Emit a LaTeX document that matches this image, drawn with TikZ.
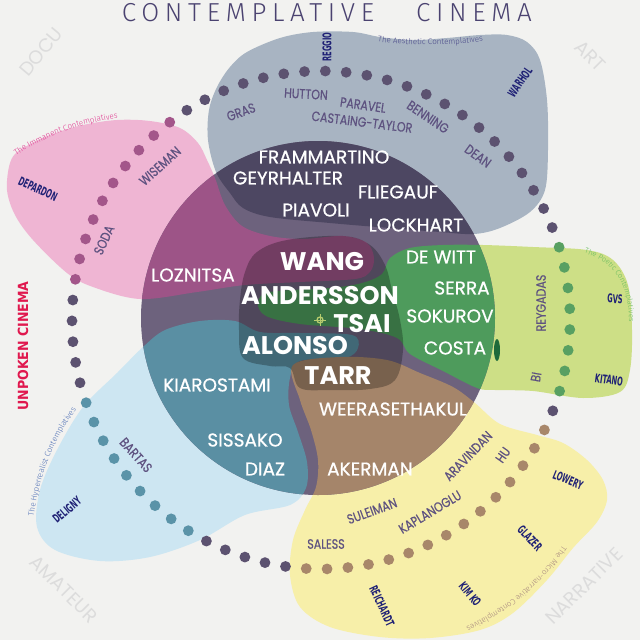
\documentclass[tikz,border=0pt]{standalone}
\usepackage{fontspec}
\usetikzlibrary{decorations.text}
\newfontfamily\namefont{Poppins}
\newfontfamily\whitefont{Poppins}[FakeBold=0.7]
\newfontfamily\edgefont{Poppins}[FakeStretch=0.82,FakeBold=0.5]
\newfontfamily\navyfont{DejaVu Sans Condensed}[FakeStretch=0.62]
\newfontfamily\unpokenfont{DejaVu Sans Condensed}
\newfontfamily\thinfont{Fira Sans Light}
\newfontfamily\titlefont{Fira Sans Light}[LetterSpace=22]

\definecolor{paper}{HTML}{F2F2F0}
\definecolor{aestheticfill}{HTML}{A8B4C2}
\definecolor{immanentfill}{HTML}{EFB5D3}
\definecolor{poeticfill}{HTML}{CDDF86}
\definecolor{hyperfill}{HTML}{CDE6F2}
\definecolor{microfill}{HTML}{F7EFA9}
\definecolor{discfill}{HTML}{6D627D}
\definecolor{aestheticdark}{HTML}{4D4762}
\definecolor{immanentdark}{HTML}{9D5487}
\definecolor{poeticdark}{HTML}{4E9B5C}
\definecolor{hyperdark}{HTML}{5A8FA3}
\definecolor{microdark}{HTML}{A5856A}
\definecolor{bumpgreen}{HTML}{1E6A3A}
\definecolor{dot0}{HTML}{5C5270}
\definecolor{dot1}{HTML}{A3568A}
\definecolor{dot2}{HTML}{58A062}
\definecolor{dot3}{HTML}{A8876A}
\definecolor{dot4}{HTML}{5A93A8}
\definecolor{edgeink}{HTML}{5E5280}
\definecolor{navyink}{HTML}{1F2175}
\definecolor{titleink}{HTML}{4A4270}
\definecolor{unpokenink}{HTML}{E0184E}
\definecolor{ghostline}{HTML}{DCDCDC}
\definecolor{markerink}{HTML}{B7CC6E}
\definecolor{aestheticink}{HTML}{4B4A8A}
\definecolor{immanentink}{HTML}{E0378F}
\definecolor{poeticink}{HTML}{66BB5E}
\definecolor{hyperink}{HTML}{4E6FB5}
\definecolor{microink}{HTML}{A6877E}

% the five fields, in pixel coordinates (y downwards)
\newcommand{\aestheticblob}{plot[smooth cycle,tension=0.55] coordinates {(217,87) (230,67) (247,52) (280,38) (313,32) (353,32) (380,37) (413,40) (447,38) (480,35) (507,35) (527,42) (540,60) (547,100) (548,150) (545,190) (530,212) (500,228) (474,234) (440,232) (377,227) (330,223) (270,217) (243,208) (230,193) (216,172) (208,140) (209,110)}}
\newcommand{\immanentblob}{plot[smooth cycle,tension=0.55] coordinates {(10,163) (20,150) (50,135) (83,125) (117,120) (150,121) (180,128) (198,143) (207,160) (215,178) (225,205) (242,226) (270,236) (303,239) (343,236) (367,243) (374,258) (370,272) (355,279) (300,282) (245,285) (197,292) (140,299) (93,287) (67,273) (33,240) (15,215) (7,190)}}
\newcommand{\poeticblob}{plot[smooth cycle,tension=0.55] coordinates {(483,245) (533,247) (587,250) (613,260) (628,285) (632,330) (630,370) (620,392) (583,398) (533,391) (495,390) (477,388) (443,371) (410,354) (397,338) (360,329) (300,324) (266,316) (258,303) (270,292) (330,288) (362,283) (382,274) (390,258) (410,248) (443,245)}}
\newcommand{\hyperblob}{plot[smooth cycle,tension=0.55] coordinates {(37,527) (40,490) (57,450) (83,407) (117,373) (143,347) (165,330) (200,321) (235,321) (260,332) (300,333) (352,335) (358,348) (345,358) (300,361) (290,378) (289,405) (298,432) (307,462) (306,488) (290,505) (245,515) (200,540) (150,557) (100,561) (55,550)}}
\newcommand{\microblob}{plot[smooth cycle,tension=0.55] coordinates {(293,365) (340,357) (387,360) (420,373) (453,387) (475,403) (500,424) (537,435) (563,443) (587,460) (603,480) (607,500) (597,522) (573,548) (547,580) (513,613) (480,630) (430,638) (380,637) (330,627) (300,607) (290,575) (293,540) (305,510) (316,487) (318,460) (311,430) (300,400)}}
\newcommand{\coreblob}{plot[smooth cycle,tension=0.6] coordinates {(257,252) (287,240) (343,236) (370,245) (385,265) (392,290) (400,320) (403,350) (395,380) (370,389) (330,390) (300,388) (290,368) (270,366) (243,358) (239,330) (240,300) (245,272)}}

\begin{document}
\begin{tikzpicture}[x=1pt,y=-1pt,
    whitename/.style={font=\whitefont\fontsize{18.5}{20}\selectfont,text=white,inner sep=0pt},
    corename/.style={font=\namefont\bfseries\fontsize{25.5}{26}\selectfont,text=white,inner sep=0pt},
    edgename/.style={font=\edgefont\fontsize{13.5}{14}\selectfont,text=edgeink,inner sep=0pt},
    navyname/.style={font=\navyfont\bfseries\fontsize{12}{12}\selectfont,text=navyink,inner sep=0pt},
    ghost/.style={font=\namefont\fontsize{19}{19}\selectfont,text=ghostline,inner sep=0pt},
    fieldlabel/.style={decorate,decoration={text along path,text align=center,text={#1}}}]
  \useasboundingbox (0,0) rectangle (640,640);
  \fill[paper] (0,0) rectangle (640,640);

  % outer fields
  \fill[aestheticfill] \aestheticblob;
  \fill[poeticfill] \poeticblob;
  \fill[hyperfill] \hyperblob;
  \fill[microfill] \microblob;
  \fill[immanentfill] \immanentblob;

  % the disc and what lies under it
  \fill[discfill] (318,318) circle[radius=177pt];
  \begin{scope}
    \clip (318,318) circle[radius=177pt];
    \fill[aestheticdark] \aestheticblob;
    \fill[immanentdark] \immanentblob;
    \fill[poeticdark] \poeticblob;
    \fill[hyperdark] \hyperblob;
    \fill[microdark] \microblob;
    \fill[black,fill opacity=0.27] \coreblob;
  \end{scope}
  \fill[bumpgreen] (497,350) ellipse[x radius=3pt,y radius=11pt];

  % ring of dots
  \foreach \i in {0,...,74}{
    \pgfmathsetmacro{\ang}{mod(89-\i*4.8+720,360)}
    \pgfmathtruncatemacro{\zone}{and(\ang>124,\ang<172) ? 1 : (or(\ang<18,\ang>343) ? 2 : (and(\ang>262,\ang<334) ? 3 : (and(\ang>198,\ang<241) ? 4 : 0)))}
    \fill[fill=dot\zone] ({321+249*cos(\ang)},{320-249*sin(\ang)}) circle[radius=5.4pt];
  }

  % centre mark
  \draw[markerink,line width=1.3pt] (320,320) circle[radius=3pt];
  \draw[markerink,line width=1pt] (314,320) -- (326,320) (320,314) -- (320,326);

  % title and side words
  \node[font=\titlefont\fontsize{26}{26}\selectfont,text=titleink,inner sep=0pt] (title-left) at (248,13) {CONTEMPLATIVE};
  \node[font=\titlefont\fontsize{26}{26}\selectfont,text=titleink,inner sep=0pt] (title-right) at (474,13) {CINEMA};
  \node[font=\unpokenfont\bfseries\fontsize{14}{14}\selectfont,text=unpokenink,rotate=90,inner sep=0pt] (unpoken) at (23,346) {UNPOKEN CINEMA};
  \node[ghost,rotate=50] (docu) at (41,52) {DOCU};
  \node[ghost,rotate=-45] (art) at (590,56) {ART};
  \node[ghost,rotate=-45] (amateur) at (64,589) {AMATEUR};
  \node[ghost,rotate=45] (narrative) at (584,586) {NARRATIVE};

  % field names
  \path[fieldlabel={|\thinfont\fontsize{8}{8}\selectfont\color{aestheticink}|The Aesthetic Contemplatives}] (374,41) .. controls (410,46) and (450,46) .. (487,41);
  \path[fieldlabel={|\thinfont\fontsize{8}{8}\selectfont\color{immanentink}|The Immanent Contemplatives}] (13,158) .. controls (40,138) and (80,122) .. (122,118);
  \path[fieldlabel={|\thinfont\fontsize{7.5}{8}\selectfont\color{poeticink}|The Poetic Contemplatives}] (581,252) .. controls (612,260) and (630,282) .. (629,325);
  \path[fieldlabel={|\thinfont\fontsize{8}{8}\selectfont\color{hyperink}|The Hyperrealist Contemplatives}] (33,522) .. controls (38,480) and (52,440) .. (80,405);
  \path[fieldlabel={|\thinfont\fontsize{8}{8}\selectfont\color{microink}|The Micro-narrative Contemplatives}] (566,540) .. controls (545,576) and (510,607) .. (460,630);

  % names inside the disc
  \node[whitename] (frammartino) at (324,157) {FRAMMARTINO};
  \node[whitename] (geyrhalter) at (288,178) {GEYRHALTER};
  \node[whitename] (fliegauf) at (398,192) {FLIEGAUF};
  \node[whitename] (piavoli) at (316,210) {PIAVOLI};
  \node[whitename] (lockhart) at (416,225) {LOCKHART};
  \node[whitename] (dewitt) at (441,257) {DE WITT};
  \node[whitename] (serra) at (462,288) {SERRA};
  \node[whitename] (sokurov) at (450,316) {SOKUROV};
  \node[whitename] (costa) at (455,348) {COSTA};
  \node[whitename] (loznitsa) at (193,275) {LOZNITSA};
  \node[whitename] (kiarostami) at (217,385) {KIAROSTAMI};
  \node[whitename] (weerasethakul) at (393,409) {WEERASETHAKUL};
  \node[whitename] (sissako) at (245,440) {SISSAKO};
  \node[whitename] (diaz) at (265,469) {DIAZ};
  \node[whitename] (akerman) at (370,469) {AKERMAN};
  \node[corename] (wang) at (322,262) {WANG};
  \node[corename] (andersson) at (320,296) {ANDERSSON};
  \node[corename] (tsai) at (362,324) {TSAI};
  \node[corename] (alonso) at (295,346) {ALONSO};
  \node[corename] (tarr) at (338,376) {TARR};

  % names in the outer fields
  \node[edgename,rotate=20] (gras) at (241,112) {GRAS};
  \node[edgename,rotate=-3] (hutton) at (306,94) {HUTTON};
  \node[edgename,rotate=-8] (paravel) at (363,105) {PARAVEL};
  \node[edgename,rotate=-7] (castaing) at (362,122) {CASTAING-TAYLOR};
  \node[edgename,rotate=-34] (benning) at (428,117) {BENNING};
  \node[edgename,rotate=-36] (dean) at (478,156) {DEAN};
  \node[edgename,rotate=42] (wiseman) at (160,166) {WISEMAN};
  \node[edgename,rotate=65] (soda) at (104,240) {SODA};
  \node[edgename,rotate=-48] (bartas) at (136,455) {BARTAS};
  \node[edgename,rotate=90] (reygadas) at (541,303) {REYGADAS};
  \node[edgename,rotate=80] (bi) at (536,377) {BI};
  \node[edgename,rotate=20] (suleiman) at (372,511) {SULEIMAN};
  \node[edgename,rotate=31] (kaplanoglu) at (430,512) {KAPLANOGLU};
  \node[edgename,rotate=46] (aravindan) at (468,456) {ARAVINDAN};
  \node[edgename,rotate=55] (hu) at (503,455) {HU};
  \node[edgename] (saless) at (326,544) {SALESS};

  \node[navyname,rotate=-25] (depardon) at (38,189) {DEPARDON};
  \node[navyname,rotate=55] (warhol) at (520,82) {WARHOL};
  \node[navyname,rotate=90] (reggio) at (327,47) {REGGIO};
  \node[navyname,rotate=-3] (gvs) at (615,299) {GVS};
  \node[navyname,rotate=-8] (kitano) at (609,380) {KITANO};
  \node[navyname,rotate=40] (deligny) at (67,510) {DELIGNY};
  \node[navyname,rotate=-22] (lowery) at (568,480) {LOWERY};
  \node[navyname,rotate=-47] (glazer) at (530,538) {GLAZER};
  \node[navyname,rotate=-51] (kimko) at (470,594) {KIM KO};
  \node[navyname,rotate=-65] (reichardt) at (382,606) {REICHARDT};
\end{tikzpicture}
\end{document}
